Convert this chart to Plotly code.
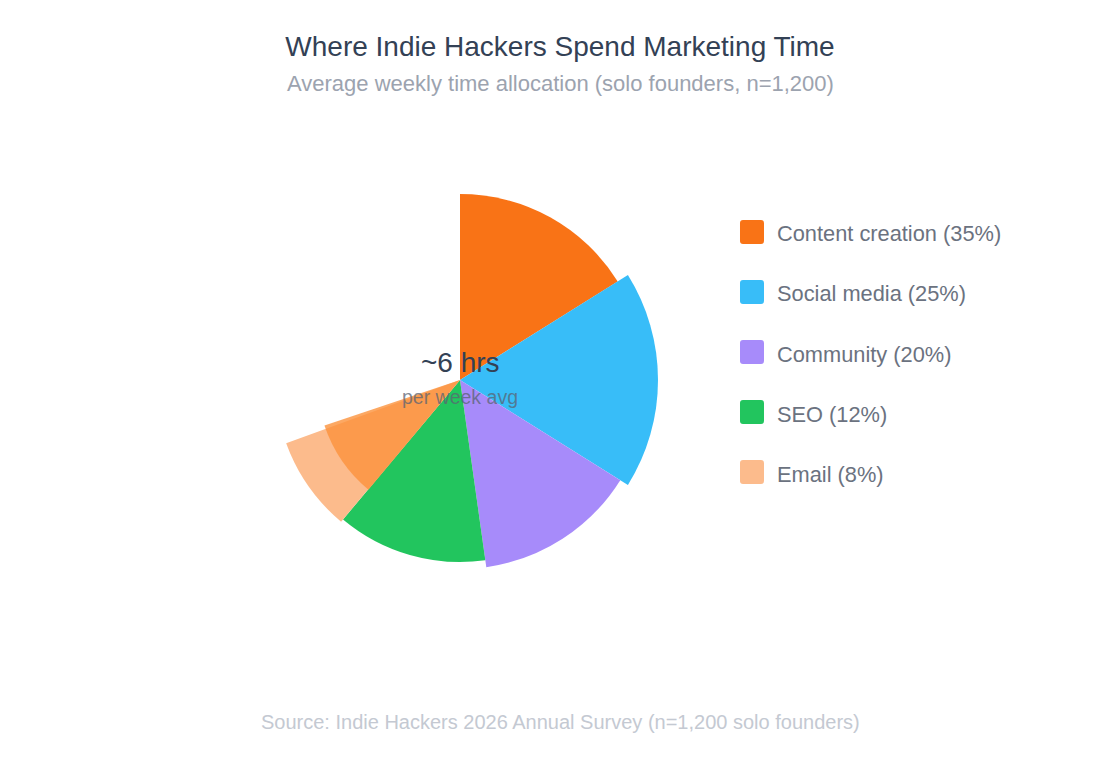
import plotly.graph_objects as go

W, H = 1120, 760
OFF = 8  # page body margin: the figure sits 8px right/down in the window

# slices (angles read clockwise from 12 o'clock)
channels = ["Content creation", "Social media", "Community", "SEO", "Email"]
pct = [35, 25, 20, 12, 8]
start_deg = [0, 58, 122, 172, 220]
span_deg = [58, 64, 50, 48, 30]
radius = [186, 198, 189, 182, 185]
colors = ["#F97316", "#38BDF8", "#A78BFA", "#22C55E", "#FCBB8C"]

# the darker orange wedge sitting over the Email slice
overlay_start = 219.8
overlay_span = 31.6
overlay_r = 143

center_big = "~6 hrs"
center_small = "per week avg"
title = "Where Indie Hackers Spend Marketing Time"
subtitle = "Average weekly time allocation (solo founders, n=1,200)"
source = "Source: Indie Hackers 2026 Annual Survey (n=1,200 solo founders)"

FONT = "Liberation Sans, Arial, Helvetica, sans-serif"


# screen pixel -> paper fraction
def px(x):
    return (x - OFF) / W


def py_(y):
    return 1 - (y - OFF) / H


fig = go.Figure()
for i in range(len(channels)):
    fig.add_trace(go.Barpolar(
        r=[radius[i]],
        theta=[start_deg[i] + span_deg[i] / 2],
        width=[span_deg[i]],
        marker=dict(color=colors[i], line=dict(width=0)),
        name="%s (%d%%)" % (channels[i], pct[i]),
        showlegend=False,
        hoverinfo="name",
    ))

fig.add_trace(go.Barpolar(
    r=[overlay_r],
    theta=[overlay_start + overlay_span / 2],
    width=[overlay_span],
    marker=dict(color="#FB923C", line=dict(width=0)),
    opacity=0.8,
    showlegend=False,
    hoverinfo="skip",
))

# polar box: 400x400 px centred on (460, 380)
cx, cy, R = 460, 380, 200
fig.update_layout(
    width=W, height=H,
    margin=dict(l=0, r=0, t=0, b=0),
    paper_bgcolor="white",
    font=dict(family=FONT),
    title=dict(text=title, x=px(560), xanchor="center", y=py_(46), yanchor="middle",
               font=dict(size=28, color="#334155", family=FONT)),
    polar=dict(
        domain=dict(x=[px(cx - R), px(cx + R)], y=[py_(cy + R), py_(cy - R)]),
        bgcolor="white",
        bargap=0,
        radialaxis=dict(range=[0, R], visible=False, showgrid=False),
        angularaxis=dict(rotation=90, direction="clockwise", visible=False,
                         showgrid=False),
    ),
)

ann = [
    dict(text=subtitle, x=px(560), y=py_(84), font=dict(size=22, color="#9CA3AF")),
    dict(text=source, x=px(560), y=py_(722), font=dict(size=20, color="#C4C9D2")),
    dict(text=center_big, x=px(cx), y=py_(363), font=dict(size=28, color="#334155")),
    dict(text=center_small, x=px(cx), y=py_(397),
         font=dict(size=19.5, color="rgba(90,100,115,0.75)")),
]

# legend drawn by hand: rounded squares + labels
shapes = []
rx, ry = 3 / W, 3 / H
for i in range(len(channels)):
    yc = 232 + 60 * i
    x0, x1 = px(740), px(764)
    y0, y1 = py_(yc + 12), py_(yc - 12)
    path = ("M %f,%f L %f,%f Q %f,%f %f,%f L %f,%f Q %f,%f %f,%f "
            "L %f,%f Q %f,%f %f,%f L %f,%f Q %f,%f %f,%f Z") % (
        x0 + rx, y0, x1 - rx, y0, x1, y0, x1, y0 + ry,
        x1, y1 - ry, x1, y1, x1 - rx, y1,
        x0 + rx, y1, x0, y1, x0, y1 - ry,
        x0, y0 + ry, x0, y0, x0 + rx, y0)
    shapes.append(dict(type="path", xref="paper", yref="paper", path=path,
                       fillcolor=colors[i], line=dict(width=0)))
    ann.append(dict(text="%s (%d%%)" % (channels[i], pct[i]), x=px(775), y=py_(yc + 2),
                    xanchor="left", font=dict(size=21.8, color="#6B7280")))

for a in ann:
    a.setdefault("xanchor", "center")
    a.update(xref="paper", yref="paper", yanchor="middle", showarrow=False)

fig.update_layout(annotations=ann, shapes=shapes)

fig.write_html("out.html")
